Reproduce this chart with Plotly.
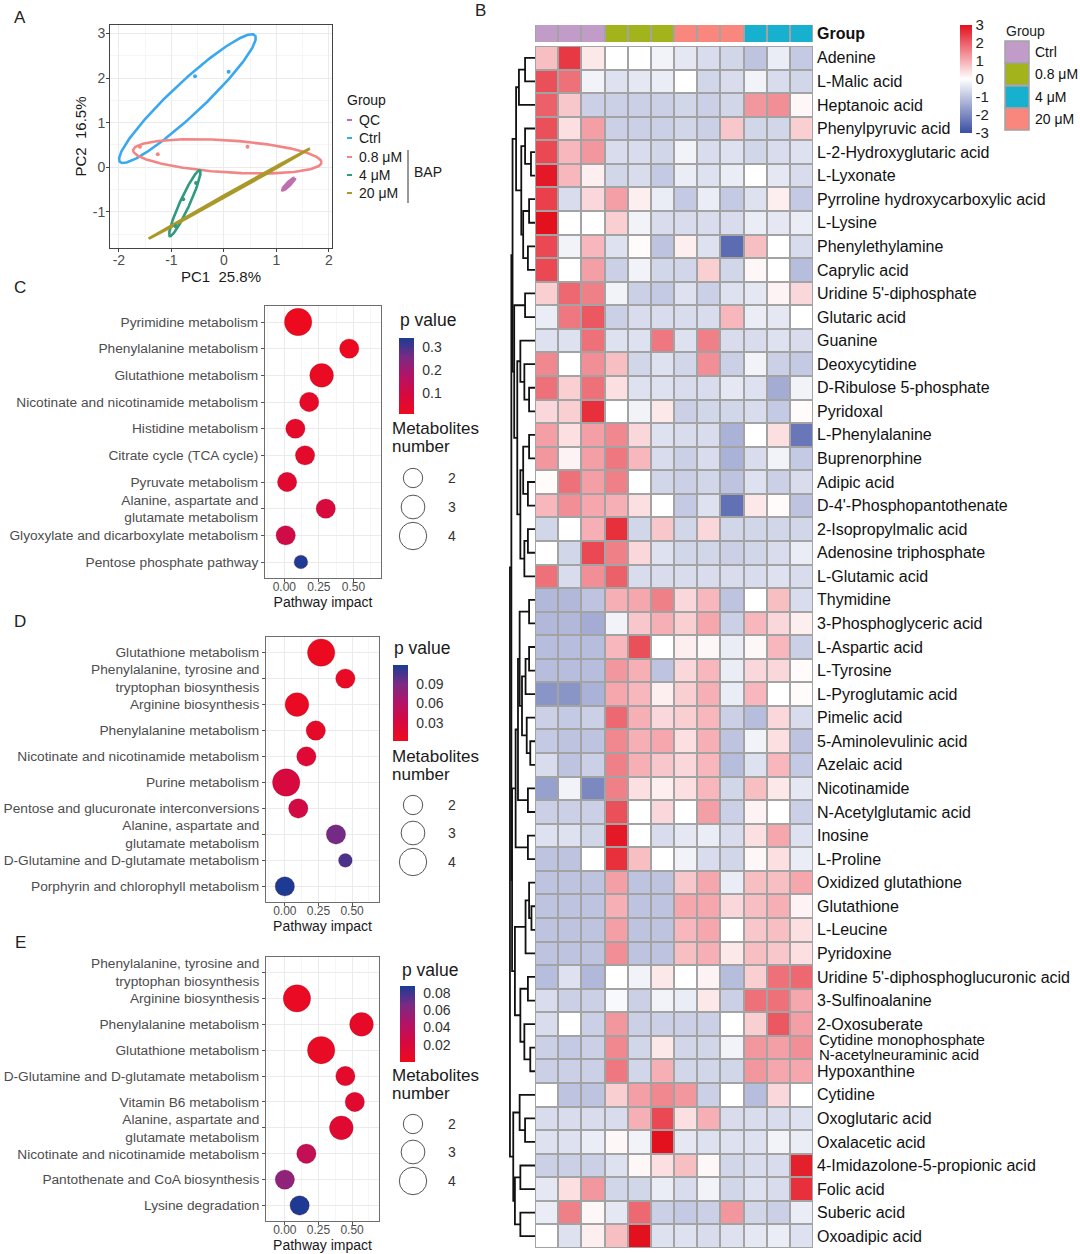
import numpy as np
import plotly.graph_objects as go

W, H = 1080, 1254
FONT = "Liberation Sans, Arial, Helvetica, sans-serif"


def fx(x):
    return x / W


def fy(y):
    return 1 - y / H


# ---------------- Panel A : PCA ----------------
pca_groups = ["QC", "Ctrl", "0.8 μM", "4 μM", "20 μM"]
pca_colors = ["#BD6FAE", "#3AA8EE", "#F28585", "#2E9A7E", "#AA9828"]
ell_cx = [1.235, -0.695, 0.065, -0.744, 0.105]
ell_cy = [-0.375, 1.54, 0.245, -0.805, -0.59]
ell_ax = [0.115, 1.285, 1.795, 0.287, 1.535]
ell_ay = [0.135, 1.42, -0.135, 0.74, 1.01]
ell_bx = [-0.025, -0.21, 0.0, -0.085, -0.012]
ell_by = [0.02, 0.26, 0.36, 0.045, 0.018]
pts_x = {"Ctrl": [-0.55, 0.09], "0.8 μM": [-1.6, -1.26, 0.45], "4 μM": [-0.53, -0.775, -0.92]}
pts_y = {"Ctrl": [2.04, 2.14], "0.8 μM": [0.46, 0.29, 0.46], "4 μM": [-0.35, -0.715, -1.32]}
pca_xticks = [-2, -1, 0, 1, 2]
pca_yticks = [-1, 0, 1, 2, 3]

# ---------------- Panels C, D, E : pathway bubbles ----------------
c_pathways = ["Pyrimidine metabolism", "Phenylalanine metabolism", "Glutathione metabolism",
              "Nicotinate and nicotinamide metabolism", "Histidine metabolism",
              "Citrate cycle (TCA cycle)", "Pyruvate metabolism",
              "Alanine, aspartate and<br>glutamate metabolism",
              "Glyoxylate and dicarboxylate metabolism", "Pentose phosphate pathway"]
c_impact = [0.10, 0.47, 0.27, 0.18, 0.08, 0.15, 0.02, 0.30, 0.01, 0.12]
c_pvalue = [0.010, 0.020, 0.025, 0.035, 0.040, 0.045, 0.055, 0.085, 0.110, 0.335]
c_count = [4, 2, 3, 2, 2, 2, 2, 2, 2, 1]

d_pathways = ["Glutathione metabolism", "Phenylalanine, tyrosine and<br>tryptophan biosynthesis",
              "Arginine biosynthesis", "Phenylalanine metabolism",
              "Nicotinate and nicotinamide metabolism", "Purine metabolism",
              "Pentose and glucuronate interconversions",
              "Alanine, aspartate and<br>glutamate metabolism",
              "D-Glutamine and D-glutamate metabolism", "Porphyrin and chlorophyll metabolism"]
d_impact = [0.27, 0.45, 0.09, 0.23, 0.16, 0.01, 0.10, 0.38, 0.45, 0.00]
d_pvalue = [0.004, 0.008, 0.006, 0.012, 0.022, 0.030, 0.035, 0.092, 0.104, 0.118]
d_count = [4, 2, 3, 2, 2, 4, 2, 2, 1, 2]

e_pathways = ["Phenylalanine, tyrosine and<br>tryptophan biosynthesis", "Arginine biosynthesis",
              "Phenylalanine metabolism", "Glutathione metabolism",
              "D-Glutamine and D-glutamate metabolism", "Vitamin B6 metabolism",
              "Alanine, aspartate and<br>glutamate metabolism",
              "Nicotinate and nicotinamide metabolism",
              "Pantothenate and CoA biosynthesis", "Lysine degradation"]
e_impact = [None, 0.09, 0.57, 0.27, 0.45, 0.52, 0.42, 0.16, 0.00, 0.11]
e_pvalue = [None, 0.004, 0.007, 0.005, 0.010, 0.012, 0.014, 0.035, 0.058, 0.087]
e_count = [None, 4, 3, 4, 2, 2, 3, 2, 2, 2]

size_legend = [2, 3, 4]

# ---------------- Panel B : heatmap ----------------
sample_groups = ["Ctrl", "Ctrl", "Ctrl", "0.8 μM", "0.8 μM", "0.8 μM",
                 "20 μM", "20 μM", "20 μM", "4 μM", "4 μM", "4 μM"]
group_levels = ["Ctrl", "0.8 μM", "4 μM", "20 μM"]
group_colors = ["#C29CC9", "#A2B31B", "#17B1CF", "#F9877D"]
hm_ticks = [-3, -2, -1, 0, 1, 2, 3]

metabolites = ["Adenine", "L-Malic acid", "Heptanoic acid", "Phenylpyruvic acid",
               "L-2-Hydroxyglutaric acid", "L-Lyxonate", "Pyrroline hydroxycarboxylic acid",
               "L-Lysine", "Phenylethylamine", "Caprylic acid", "Uridine 5'-diphosphate",
               "Glutaric acid", "Guanine", "Deoxycytidine", "D-Ribulose 5-phosphate",
               "Pyridoxal", "L-Phenylalanine", "Buprenorphine", "Adipic acid",
               "D-4'-Phosphopantothenate", "2-Isopropylmalic acid", "Adenosine triphosphate",
               "L-Glutamic acid", "Thymidine", "3-Phosphoglyceric acid", "L-Aspartic acid",
               "L-Tyrosine", "L-Pyroglutamic acid", "Pimelic acid", "5-Aminolevulinic acid",
               "Azelaic acid", "Nicotinamide", "N-Acetylglutamic acid", "Inosine", "L-Proline",
               "Oxidized glutathione", "Glutathione", "L-Leucine", "Pyridoxine",
               "Uridine 5'-diphosphoglucuronic acid", "3-Sulfinoalanine", "2-Oxosuberate",
               "Cytidine monophosphate|N-acetylneuraminic acid", "Hypoxanthine", "Cytidine",
               "Oxoglutaric acid", "Oxalacetic acid", "4-Imidazolone-5-propionic acid",
               "Folic acid", "Suberic acid", "Oxoadipic acid"]

hm_values = [
    [0.8, 2.5, 0.3, 0.0, 0.0, -0.2, -0.4, -0.6, -0.7, -1.0, -0.3, -0.9],
    [2.2, 1.8, -0.2, -0.5, -0.4, -0.3, 0.0, -0.7, -0.6, -0.2, -0.6, -0.7],
    [2.0, 0.7, -0.8, -0.8, -0.8, -0.8, -0.7, -0.8, -0.7, 1.3, 1.4, 0.1],
    [2.2, 0.4, 1.2, -0.8, -0.8, -0.8, -0.7, -0.8, 0.7, -0.7, -0.7, 0.6],
    [2.3, 0.9, 1.3, -0.6, -0.6, -0.7, -0.2, -0.6, -0.5, -0.7, -0.6, -0.5],
    [2.9, 0.9, 0.2, -0.7, -0.6, -0.9, -0.3, -0.5, -0.3, 0.0, -0.4, -0.6],
    [2.4, -0.6, 0.5, 1.2, 0.2, -0.3, -0.9, -0.3, -0.9, -0.5, 0.2, -0.9],
    [3.0, 0.0, 0.0, 0.6, -0.2, -0.6, -0.6, -0.6, -0.6, -0.3, -0.4, -0.3],
    [2.3, -0.2, 0.9, -0.5, 0.05, -1.0, 0.2, -0.5, -2.5, 0.8, 0.0, -0.6],
    [2.3, 0.0, 1.2, -0.8, -0.2, -0.7, -0.7, 0.6, -0.7, 0.1, 0.0, -1.1],
    [0.6, 1.9, 1.6, -0.2, -0.8, -0.9, -0.5, -0.8, -0.5, -0.4, 0.15, 0.5],
    [-0.3, 1.7, 2.1, -0.8, -0.6, -0.6, -0.6, -0.6, 0.9, -0.3, -0.4, 0.0],
    [-0.5, -0.5, 1.8, -0.5, -0.5, 1.7, -0.5, 1.6, -0.6, -0.6, -0.5, -0.6],
    [1.5, 0.0, 1.4, 0.8, -0.7, -0.5, -0.7, 1.4, -0.8, -0.2, -0.8, -0.9],
    [1.8, 0.6, 1.8, 0.4, -0.5, -0.5, -0.6, -0.6, -0.4, -0.5, -1.4, -0.2],
    [0.5, 0.6, 2.6, 0.0, -0.2, 0.3, -0.8, -0.7, -0.7, -0.6, -0.9, 0.05],
    [1.2, 0.4, 1.2, 1.5, 0.5, -0.5, -0.6, -0.6, -1.3, 0.0, 0.4, -2.3],
    [1.3, 0.15, 1.2, 1.7, 0.9, -0.6, -0.8, -0.6, -1.3, -0.6, -0.2, -0.9],
    [0.05, 1.8, 1.2, 1.6, 0.0, -0.7, -0.8, -0.7, -1.0, -0.5, -0.8, -0.6],
    [0.9, 1.4, 1.1, 1.0, 0.4, 0.0, -0.9, -0.5, -2.4, 0.3, 0.05, -1.0],
    [-0.7, 0.0, 1.0, 2.6, -0.7, 0.7, -0.7, 0.5, -0.7, -0.7, -0.7, -0.7],
    [0.0, -0.7, 2.3, 1.6, 0.5, -0.5, -0.7, -0.7, -0.8, -0.7, -0.6, -0.3],
    [1.8, -0.6, 1.4, 2.0, -0.6, -0.6, -0.6, -0.6, -0.6, -0.6, -0.5, -0.6],
    [-1.2, -1.2, -1.0, 1.0, 1.1, 1.6, 0.5, 0.9, -1.0, 0.0, 0.8, -0.6],
    [-1.2, -1.2, -1.4, -0.2, 0.7, 1.0, 0.6, 1.1, -0.8, 0.9, 0.5, 0.2],
    [-1.1, -1.1, -1.1, 0.9, 2.2, 0.0, 0.2, 0.1, -0.3, 0.1, 0.9, -0.8],
    [-1.1, -1.1, -1.1, 1.3, 1.0, -1.0, 0.5, 0.9, -0.3, 0.5, 0.5, 0.05],
    [-1.8, -1.8, -1.3, 1.1, 0.9, 0.2, 0.6, 1.0, -0.3, 0.9, 0.0, 0.05],
    [-0.8, -0.9, -0.8, 1.9, 1.0, 0.5, 0.6, 0.9, -0.8, -1.1, 0.5, -0.6],
    [-0.9, -1.0, -1.0, 1.5, 1.0, 1.1, 0.4, 1.0, -1.0, -0.2, 0.4, -1.0],
    [-0.6, -1.0, -0.8, 1.6, 1.0, 0.7, 0.5, 0.9, -1.1, -0.5, 0.9, -0.9],
    [-1.6, -0.2, -2.0, 1.6, 0.4, 0.2, 0.4, 0.9, -0.7, 0.8, 0.3, -0.4],
    [-0.8, -0.8, -0.8, 2.2, 0.0, 0.5, 0.0, 1.2, -0.8, 0.15, 0.0, -0.8],
    [-0.5, -0.5, -0.7, 2.9, 0.0, -0.6, -0.4, -0.3, -0.6, 0.4, 1.1, -0.5],
    [-1.0, -1.0, 0.0, 2.6, 0.8, 0.0, -0.2, -0.6, -0.7, 0.1, 0.4, -0.3],
    [-1.0, -1.0, -1.0, 1.2, -1.0, -1.0, 0.7, 1.1, -0.3, 0.8, 0.8, 1.1],
    [-1.0, -1.0, -1.0, 1.0, -1.0, -1.0, 1.1, 1.1, 0.5, 0.8, 1.0, 0.15],
    [-1.0, -1.0, -1.0, 1.2, -1.0, -1.0, 0.9, 1.1, 0.0, 0.7, 0.8, 0.4],
    [-1.0, -1.0, -1.0, 1.4, -1.0, -1.0, 0.8, 1.0, 0.3, 0.8, 0.7, 0.4],
    [-1.1, -0.5, -1.2, 0.0, -0.2, 0.3, 0.0, 0.15, -1.1, 0.6, 1.8, 1.9],
    [-0.6, -0.8, -0.8, -0.1, -0.8, -0.2, -0.3, 0.3, -0.8, 1.8, 1.8, 1.1],
    [-0.6, 0.0, -0.8, 1.3, -0.8, -0.8, -0.8, -0.8, 0.0, 0.6, 2.1, 1.2],
    [-0.8, -0.9, -0.8, 1.5, -0.7, 0.3, -0.7, -0.7, -0.2, 1.3, 1.2, 1.4],
    [-0.8, -0.8, -0.8, 1.7, -0.7, 1.0, -0.7, -0.7, -0.7, 1.3, 1.1, 1.1],
    [0.0, -1.0, -1.0, 0.6, 1.2, 1.5, 1.3, -0.8, 0.0, -1.1, 0.5, 0.0],
    [-0.6, -0.6, -0.6, -0.6, 1.0, 2.3, 0.4, 1.0, -0.6, -0.6, -0.6, -0.5],
    [-0.5, -0.5, -0.3, 0.1, -0.2, 3.0, -0.4, -0.5, -0.5, -0.5, -0.2, -0.3],
    [-0.8, -0.8, -0.8, -0.5, 0.1, 0.4, 0.8, 0.1, -0.7, -0.6, -0.6, 2.8],
    [-0.4, 0.4, 1.3, -0.7, -0.7, -0.3, -0.6, -0.2, -0.7, -0.5, -0.6, 2.6],
    [-0.3, 1.6, 0.1, -0.4, 1.9, -0.8, -0.9, -0.8, 1.3, -0.7, -0.8, -0.3],
    [0.0, -0.5, 0.2, 0.8, 3.0, -0.5, -0.5, -0.6, -0.5, -0.4, -0.3, -0.5],
]

# row dendrogram: [height, left, right], leaves are row indices
A1 = [0.42, 0, 1]; A2 = [0.68, A1, 2]
B1 = [0.17, 4, 5]; B2 = [0.42, 3, B1]
C1 = [0.25, 6, 7]; C2 = [0.30, 8, 9]; C3 = [0.50, C1, C2]
D1 = [0.58, B2, C3]; E1 = [0.80, A2, D1]
F1 = [0.42, 10, 11]
G1 = [0.25, 14, 15]; G2 = [0.45, 13, G1]; G3 = [0.62, 12, G2]
H1 = [0.25, 16, 17]; H2 = [0.30, 18, 19]; H3 = [0.50, H1, H2]
I1 = [0.30, 20, 21]; I2 = [0.45, I1, 22]; I3 = [0.62, H3, I2]
J1 = [0.75, G3, I3]; J2 = [0.88, F1, J1]; K1 = [0.95, E1, J2]
L1 = [0.25, 23, 24]; L2 = [0.25, 25, 26]; L3 = [0.40, L2, 27]
M1 = [0.20, 29, 30]; M2 = [0.35, 28, M1]; M3 = [0.55, L3, M2]; M4 = [0.65, L1, M3]
N1 = [0.30, 31, 32]; N2 = [0.30, 33, 34]; N3 = [0.72, M4, N1]; N4 = [0.82, N3, N2]
O1 = [0.15, 36, 37]; O2 = [0.25, 35, O1]; O3 = [0.40, O2, 38]
P1 = [0.30, 39, 40]; P2 = [0.20, 42, 43]; P3 = [0.45, 41, P2]; P4 = [0.62, P1, P3]
Q1 = [0.85, O3, P4]; R1 = [0.97, N4, Q1]
S1 = [0.42, 45, 46]; S2 = [0.65, 44, S1]
T1 = [0.62, 47, 48]; T2 = [0.62, 49, 50]; U1 = [0.85, T1, T2]; U2 = [0.92, S2, U1]
V1 = [1.00, K1, R1]
dendro_root = [1.06, V1, U2]

# ---------------- styles ----------------
PV_SCALE = [[0.0, "#EE0A1E"], [0.25, "#D6093F"], [0.5, "#B41366"],
            [0.75, "#7A2A84"], [1.0, "#1A3C94"]]
HM_SCALE = [[0.0, "#3B4EA2"], [0.5, "#FFFFFF"], [1.0, "#E3101E"]]
GRID = "#EBEBEB"
TXT = "#4D4D4D"
LBL = 13.7


def bubble_diam(n):
    return 13.7 * np.sqrt(n)


def hyph(v):
    return str(v).replace("\u2212", "-")


fig = go.Figure()
annotations = []
shapes = []

# ---- Panel A traces
t = np.linspace(0, 2 * np.pi, 240)
for i, g in enumerate(pca_groups):
    ex = ell_cx[i] + ell_ax[i] * np.cos(t) + ell_bx[i] * np.sin(t)
    ey = ell_cy[i] + ell_ay[i] * np.cos(t) + ell_by[i] * np.sin(t)
    fig.add_trace(go.Scatter(x=ex, y=ey, mode="lines",
                             line=dict(color=pca_colors[i], width=2.6 if g != "QC" else 3.2),
                             xaxis="x", yaxis="y", hoverinfo="skip"))
for i, g in enumerate(pca_groups):
    if g in pts_x:
        fig.add_trace(go.Scatter(x=pts_x[g], y=pts_y[g], mode="markers",
                                 marker=dict(color=pca_colors[i], size=4),
                                 xaxis="x", yaxis="y"))

# ---- Bubble panels
panels = [
    dict(ax="2", names=c_pathways, imp=c_impact, pv=c_pvalue, n=c_count,
         cmin=0.009, cmax=0.34, ticks=[0.1, 0.2, 0.3], ticktext=["0.1", "0.2", "0.3"],
         cb_x=399, cb_top=338, cb_bot=414, pv_title=(398, 320), mn_title=(390, 429),
         circ_y=[478, 507, 536]),
    dict(ax="3", names=d_pathways, imp=d_impact, pv=d_pvalue, n=d_count,
         cmin=0.002, cmax=0.119, ticks=[0.03, 0.06, 0.09], ticktext=["0.03", "0.06", "0.09"],
         cb_x=393, cb_top=665, cb_bot=741, pv_title=(392, 648), mn_title=(390, 756),
         circ_y=[805, 833, 862]),
    dict(ax="4", names=e_pathways, imp=e_impact, pv=e_pvalue, n=e_count,
         cmin=0.0005, cmax=0.0877, ticks=[0.02, 0.04, 0.06, 0.08],
         ticktext=["0.02", "0.04", "0.06", "0.08"],
         cb_x=400, cb_top=986, cb_bot=1062, pv_title=(400, 970), mn_title=(390, 1075),
         circ_y=[1124, 1152, 1181]),
]
for p in panels:
    ypos = list(range(1, len(p["names"]) + 1))
    sizes = [bubble_diam(v) if v is not None else 0 for v in p["n"]]
    fig.add_trace(go.Scatter(
        x=p["imp"], y=ypos, mode="markers",
        marker=dict(size=sizes, color=[v if v is not None else p["cmin"] for v in p["pv"]],
                    colorscale=PV_SCALE, cmin=p["cmin"], cmax=p["cmax"],
                    line=dict(width=0.6, color="rgba(120,0,20,0.35)"), opacity=1,
                    showscale=True,
                    colorbar=dict(x=fx(p["cb_x"]), xanchor="left", xpad=0, ypad=0,
                                  y=fy((p["cb_top"] + p["cb_bot"]) / 2), yanchor="middle",
                                  lenmode="pixels", len=p["cb_bot"] - p["cb_top"],
                                  thickness=15, outlinewidth=0,
                                  tickvals=p["ticks"], ticktext=p["ticktext"],
                                  ticks="outside", ticklen=6, tickcolor="rgba(0,0,0,0)",
                                  tickfont=dict(size=14, color="#333333", family=FONT))),
        xaxis="x" + p["ax"], yaxis="y" + p["ax"], hoverinfo="skip"))
    tx, ty = p["pv_title"]
    annotations.append(dict(x=fx(tx), y=fy(ty), xref="paper", yref="paper", text="p value",
                            showarrow=False, xanchor="left", yanchor="middle",
                            font=dict(size=17.5, color="#1A1A1A", family=FONT)))
    mx, my = p["mn_title"]
    for j, word in enumerate(["Metabolites", "number"]):
        annotations.append(dict(x=fx(mx), y=fy(my + 18 * j), xref="paper", yref="paper",
                                text=word, showarrow=False, xanchor="left",
                                yanchor="middle",
                                font=dict(size=17, color="#1A1A1A", family=FONT)))
    for v, cy in zip(size_legend, p["circ_y"]):
        r = bubble_diam(v) / 2
        shapes.append(dict(type="circle", xref="paper", yref="paper",
                           xsizemode="pixel", ysizemode="pixel",
                           xanchor=fx(413), yanchor=fy(cy), x0=-r, x1=r, y0=-r, y1=r,
                           line=dict(color="#555555", width=1), fillcolor="rgba(0,0,0,0)"))
        annotations.append(dict(x=fx(452), y=fy(cy), xref="paper", yref="paper",
                                text=str(v), showarrow=False, xanchor="center",
                                yanchor="middle", font=dict(size=14, color="#333333",
                                                            family=FONT)))

# ---- Heatmap
nrow = len(metabolites)
fig.add_trace(go.Heatmap(
    z=hm_values, x=list(range(len(sample_groups))), y=list(range(nrow)),
    colorscale=HM_SCALE, zmin=-3, zmax=3, xgap=2, ygap=2,
    xaxis="x5", yaxis="y5", hoverinfo="skip",
    colorbar=dict(x=fx(960), xanchor="left", xpad=0, ypad=0, y=fy(79), yanchor="middle",
                  lenmode="pixels", len=108, thickness=12, outlinewidth=0,
                  tickvals=hm_ticks, ticktext=[hyph(v) for v in hm_ticks], ticks="",
                  tickfont=dict(size=15, color="#222222", family=FONT))))
group_code = [group_levels.index(g) for g in sample_groups]
GRP_SCALE = [[0, group_colors[0]], [0.25, group_colors[0]], [0.25, group_colors[1]],
             [0.5, group_colors[1]], [0.5, group_colors[2]], [0.75, group_colors[2]],
             [0.75, group_colors[3]], [1, group_colors[3]]]
fig.add_trace(go.Heatmap(
    z=[group_code], x=list(range(len(sample_groups))), y=[0],
    colorscale=GRP_SCALE, zmin=0, zmax=3, xgap=2, ygap=0, showscale=False,
    xaxis="x6", yaxis="y6", hoverinfo="skip"))

# row labels: single-line names as tick labels; a shared row gets two tight lines
hm_ticktext = []
for i, name in enumerate(metabolites):
    if "|" in name:
        hm_ticktext.append("")
        for j, part in enumerate(name.split("|")):
            annotations.append(dict(x=fx(817), y=fy(1039 + 15 * j), xref="paper",
                                    yref="paper", text=part, showarrow=False,
                                    xanchor="left", yanchor="middle",
                                    font=dict(size=15, color="#111111", family=FONT)))
    else:
        hm_ticktext.append(name)

# ---- Dendrogram
segx, segy = [], []


def walk(node):
    if isinstance(node, int):
        return float(node), 0.0
    h, a, b = node
    ya, ha = walk(a)
    yb, hb = walk(b)
    segx.extend([ha, h, h, hb, None])
    segy.extend([ya, ya, yb, yb, None])
    return (ya + yb) / 2, h


walk(dendro_root)
fig.add_trace(go.Scatter(x=segx, y=segy, mode="lines", line=dict(color="#111111", width=1.8),
                         xaxis="x7", yaxis="y7", hoverinfo="skip"))

# gray grid backgrounds behind heatmap cells
shapes.append(dict(type="rect", xref="x5", yref="y5", x0=-0.56, x1=len(sample_groups) - 0.44,
                   y0=-0.56, y1=nrow - 0.44, fillcolor="#A3A3A3",
                   line=dict(width=0), layer="below"))
shapes.append(dict(type="rect", xref="x6", yref="y6", x0=-0.56, x1=len(sample_groups) - 0.44,
                   y0=-0.6, y1=0.6, fillcolor="#A3A3A3", line=dict(width=0), layer="below"))

# ---- Panel A legend
annotations.append(dict(x=fx(345), y=fy(100), xref="paper", yref="paper", text="Group",
                        showarrow=False, xanchor="left", yanchor="middle",
                        font=dict(size=14, color="#1A1A1A", family=FONT)))
leg_y = [120, 138, 157, 175, 193]
for i, g in enumerate(pca_groups):
    shapes.append(dict(type="line", xref="paper", yref="paper", x0=fx(347), x1=fx(352),
                       y0=fy(leg_y[i]), y1=fy(leg_y[i]),
                       line=dict(color=pca_colors[i], width=2)))
    annotations.append(dict(x=fx(357), y=fy(leg_y[i]), xref="paper", yref="paper", text=g,
                            showarrow=False, xanchor="left", yanchor="middle",
                            font=dict(size=14, color="#1A1A1A", family=FONT)))
shapes.append(dict(type="line", xref="paper", yref="paper", x0=fx(408), x1=fx(408),
                   y0=fy(150), y1=fy(203), line=dict(color="#333333", width=1)))
annotations.append(dict(x=fx(412), y=fy(172), xref="paper", yref="paper", text="BAP",
                        showarrow=False, xanchor="left", yanchor="middle",
                        font=dict(size=14, color="#1A1A1A", family=FONT)))

# ---- Heatmap group legend
annotations.append(dict(x=fx(1004), y=fy(31), xref="paper", yref="paper", text="Group",
                        showarrow=False, xanchor="left", yanchor="middle",
                        font=dict(size=14, color="#222222", family=FONT)))
box_top = [41, 63, 86, 108]
for i, g in enumerate(group_levels):
    shapes.append(dict(type="rect", xref="paper", yref="paper", x0=fx(1005), x1=fx(1029),
                       y0=fy(box_top[i] + 22), y1=fy(box_top[i]), fillcolor=group_colors[i],
                       line=dict(color="#A3A3A3", width=1.5)))
    annotations.append(dict(x=fx(1033), y=fy(box_top[i] + 11), xref="paper", yref="paper",
                            text=g, showarrow=False, xanchor="left", yanchor="middle",
                            font=dict(size=14, color="#111111", family=FONT)))

# ---- Panel letters
for letter, (lx, ly) in {"A": (20, 18), "B": (480, 10), "C": (20, 287),
                         "D": (20, 621), "E": (20, 942)}.items():
    annotations.append(dict(x=fx(lx), y=fy(ly), xref="paper", yref="paper", text=letter,
                            showarrow=False, xanchor="center", yanchor="middle",
                            font=dict(size=17, color="#222222", family=FONT)))

# ---- Axes
axA = dict(showgrid=True, gridcolor=GRID, zeroline=False, showline=True, mirror=True,
           linecolor="#444444", linewidth=1, ticks="outside", ticklen=3, tickcolor="#444444",
           tickfont=dict(size=14, color=TXT, family=FONT),
           minor=dict(dtick=0.5, tick0=0, showgrid=True, gridcolor="#F6F6F6"))
layout = dict(
    width=W, height=H, margin=dict(l=0, r=0, t=0, b=0),
    paper_bgcolor="white", plot_bgcolor="white", showlegend=False,
    font=dict(family=FONT),
    xaxis=dict(axA, domain=[fx(110), fx(332)], range=[-2.17, 2.06], anchor="y",
               tickvals=pca_xticks, ticktext=[hyph(v) for v in pca_xticks],
               ticklabelstandoff=-4,
               title=dict(text="PC1\u00a0\u00a025.8%", standoff=0,
                          font=dict(size=15, color="#1A1A1A", family=FONT))),
    yaxis=dict(axA, domain=[fy(248), fy(25)], range=[-1.81, 3.19], anchor="x",
               tickvals=pca_yticks, ticktext=[hyph(v) for v in pca_yticks],
               ticklabelstandoff=-2,
               title=dict(text="PC2\u00a0\u00a016.5%", standoff=2,
                          font=dict(size=15, color="#1A1A1A", family=FONT))),
)
bub_dom = {"2": ([265, 381], [306, 578]), "3": ([266, 379], [637, 902]),
           "4": ([266, 379], [957, 1221])}
for p in panels:
    k = p["ax"]
    (x0, x1), (y0, y1) = bub_dom[k]
    layout["xaxis" + k] = dict(
        domain=[fx(x0), fx(x1)], range=[-0.14, 0.70], anchor="y" + k,
        tickvals=[0, 0.25, 0.5], ticktext=["0.00", "0.25", "0.50"],
        showgrid=True, gridcolor=GRID, zeroline=False, showline=True, mirror=True,
        linecolor="#6E6E6E", linewidth=1, ticks="outside", ticklen=3, tickcolor="#555555",
        tickfont=dict(size=12, color=TXT, family=FONT), ticklabelstandoff=-5,
        minor=dict(tickvals=[-0.125, 0.125, 0.375, 0.625], showgrid=True, gridcolor="#F6F6F6"),
        title=dict(text="Pathway impact", standoff=0,
                   font=dict(size=14, color="#1A1A1A", family=FONT)))
    layout["yaxis" + k] = dict(
        domain=[fy(y1), fy(y0)], range=[len(p["names"]) + 0.6, 0.4], anchor="x" + k,
        tickvals=list(range(1, len(p["names"]) + 1)), ticktext=p["names"],
        showgrid=True, gridcolor=GRID, zeroline=False, showline=True, mirror=True,
        linecolor="#6E6E6E", linewidth=1, ticks="outside", ticklen=3, tickcolor="#555555",
        tickfont=dict(size=LBL, color=TXT, family=FONT))

layout["xaxis5"] = dict(domain=[fx(535), fx(813)], range=[-0.5, len(sample_groups) - 0.5],
                        anchor="y5", showticklabels=False, showgrid=False, zeroline=False,
                        ticks="")
layout["yaxis5"] = dict(domain=[fy(1248), fy(46)], range=[nrow - 0.5, -0.5], anchor="x5",
                        side="right", tickvals=list(range(nrow)), ticktext=hm_ticktext,
                        showgrid=False, zeroline=False, ticks="", ticklabelstandoff=3,
                        tickfont=dict(size=16, color="#111111", family=FONT))
layout["xaxis6"] = dict(domain=[fx(535), fx(813)], range=[-0.5, len(sample_groups) - 0.5],
                        anchor="y6", showticklabels=False, showgrid=False, zeroline=False,
                        ticks="")
layout["yaxis6"] = dict(domain=[fy(42), fy(25)], range=[-0.5, 0.5], anchor="x6",
                        side="right", tickvals=[0], ticktext=["<b>Group</b>"],
                        showgrid=False, zeroline=False, ticks="", ticklabelstandoff=3,
                        tickfont=dict(size=16, color="#111111", family=FONT))
layout["xaxis7"] = dict(domain=[fx(509), fx(535)], range=[1.1, 0], anchor="y7",
                        visible=False)
layout["yaxis7"] = dict(domain=[fy(1248), fy(46)], range=[nrow - 0.5, -0.5], anchor="x7",
                        visible=False)
layout["annotations"] = annotations
layout["shapes"] = shapes
fig.update_layout(**layout)

fig.write_html("out.html", config={"displayModeBar": False},
               post_script="document.body.style.margin='0';"
                           "document.body.style.overflow='hidden';"
                           "document.documentElement.style.overflow='hidden';")
